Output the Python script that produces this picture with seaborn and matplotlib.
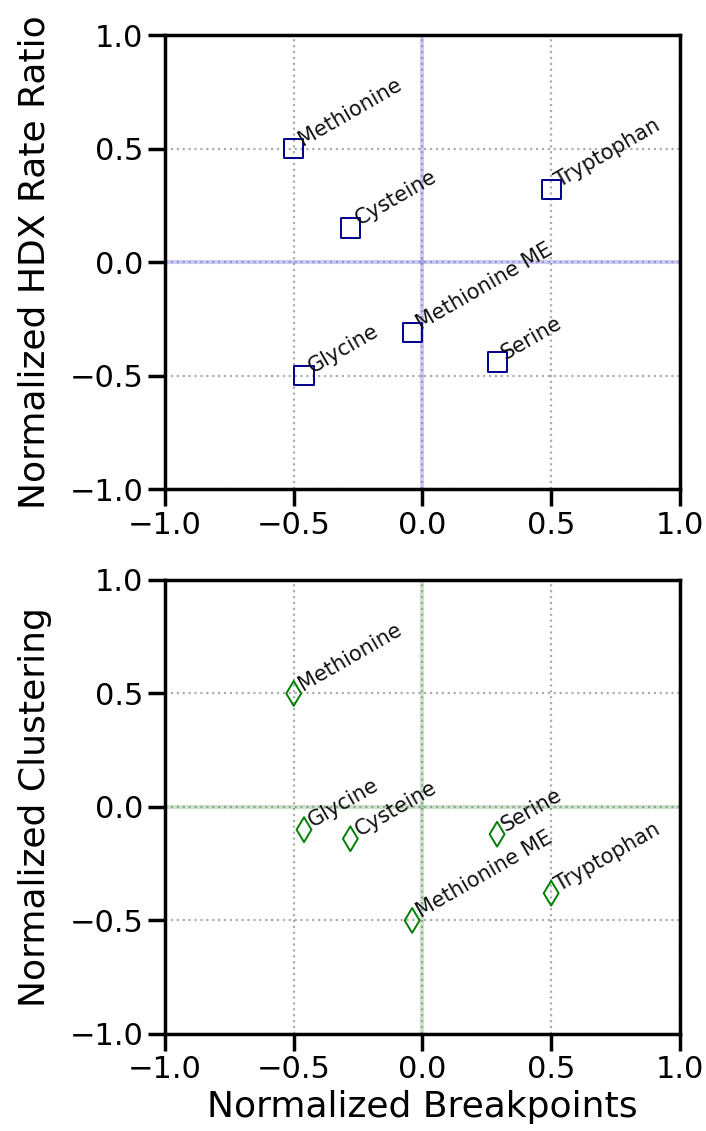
import matplotlib
matplotlib.use('Agg')
import matplotlib.pyplot as plt
import seaborn as sns
import pandas as pd

# ── Data ──────────────────────────────────────────────────
amino_acids = ['Methionine', 'Cysteine', 'Tryptophan', 'Methionine ME', 'Glycine', 'Serine']
breakpoints = [-0.50, -0.28, 0.50, -0.04, -0.46, 0.29]
hdx_ratio = [0.50, 0.15, 0.32, -0.31, -0.50, -0.44]
clustering = [0.50, -0.14, -0.38, -0.50, -0.10, -0.12]

df = pd.DataFrame({'name': amino_acids, 'bp': breakpoints,
                   'hdx': hdx_ratio, 'clust': clustering})

sns.set_theme(context='poster', style='ticks')
plt.rcParams['font.family'] = ['DejaVu Sans']
plt.rcParams['text.color'] = 'black'
plt.rcParams['axes.labelcolor'] = 'black'
plt.rcParams['xtick.color'] = 'black'
plt.rcParams['ytick.color'] = 'black'

fig = plt.figure(figsize=(7.06, 11.31), dpi=100)
ax_top = fig.add_axes([0.2337, 0.5676, 0.7293, 0.4014])
ax_bot = fig.add_axes([0.2337, 0.0858, 0.7293, 0.4014])

panels = [
    (ax_top, 'hdx', 's', 190, 'darkblue', 'blue', 'Normalized HDX Rate Ratio'),
    (ax_bot, 'clust', 'd', 160, 'green', 'green', 'Normalized Clustering'),
]

for ax, ycol, marker, size, mcolor, zcolor, ylabel in panels:
    ax.axhline(0, color=zcolor, alpha=0.2, lw=3, zorder=0)
    ax.axvline(0, color=zcolor, alpha=0.2, lw=3, zorder=0)
    ax.grid(True, ls=':', color='gray', lw=1.6, alpha=0.65)
    sns.scatterplot(data=df, x='bp', y=ycol, marker=marker, s=size,
                    facecolor='none', edgecolor=mcolor, linewidth=1.4,
                    ax=ax, zorder=3)
    for _, row in df.iterrows():
        ax.annotate(row['name'], (row['bp'], row[ycol]), xytext=(6.5, 1.5),
                    textcoords='offset points', rotation=30,
                    rotation_mode='anchor', ha='left', va='baseline',
                    fontsize=15, color='#111111')
    ax.set_xlim(-1, 1)
    ax.set_ylim(-1, 1)
    ax.set_xticks([-1.0, -0.5, 0.0, 0.5, 1.0])
    ax.set_yticks([-1.0, -0.5, 0.0, 0.5, 1.0])
    ax.set_ylabel(ylabel, fontsize=26, labelpad=13)
    ax.set_xlabel('')
    for sp in ax.spines.values():
        sp.set_color('black')

ax_bot.set_xlabel('Normalized Breakpoints', fontsize=26)

plt.savefig('out.png', dpi=100)
plt.close()
